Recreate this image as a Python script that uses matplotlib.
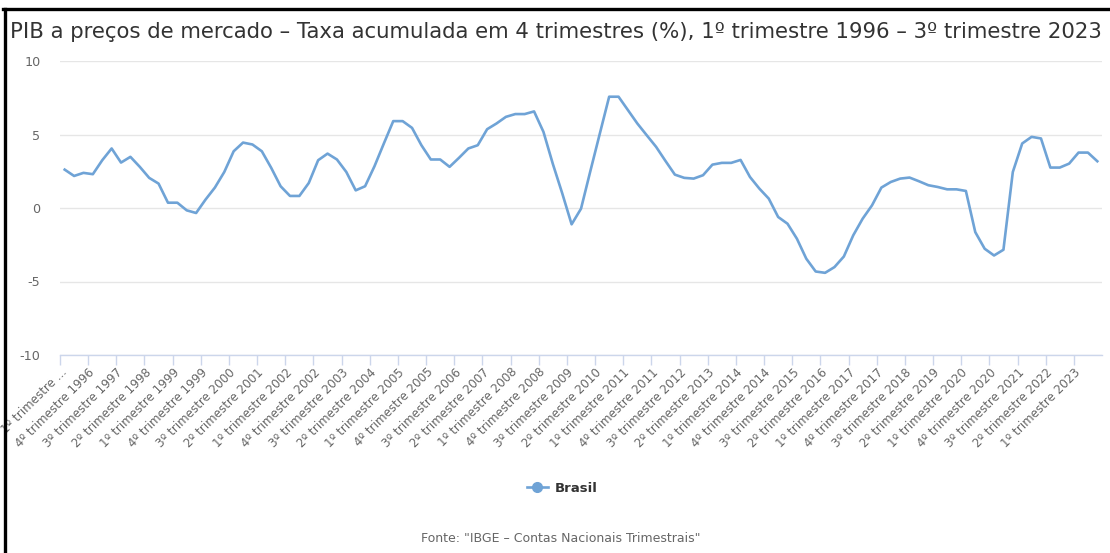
import matplotlib
matplotlib.use("Agg")
import matplotlib.pyplot as plt
from matplotlib.lines import Line2D

# ---------------- data ----------------
title = "PIB a preços de mercado – Taxa acumulada em 4 trimestres (%), 1º trimestre 1996 – 3º trimestre 2023"
series_name = "Brasil"
source = 'Fonte: "IBGE – Contas Nacionais Trimestrais"'

years = list(range(1996, 2024))
quarters = [f"{q}º trimestre {y}" for y in years for q in (1, 2, 3, 4)][:111]

values = [
    2.61, 2.18, 2.39, 2.30, 3.25, 4.05, 3.09, 3.48, 2.80, 2.05, 1.66, 0.36, 0.36, -0.16,
    -0.34, 0.57, 1.39, 2.45, 3.86, 4.45, 4.32, 3.86, 2.73, 1.48, 0.82, 0.82, 1.70, 3.25,
    3.70, 3.30, 2.45, 1.20, 1.48, 2.84, 4.39, 5.91, 5.91, 5.45, 4.27, 3.30, 3.30, 2.80,
    3.41, 4.05, 4.27, 5.36, 5.75, 6.20, 6.39, 6.39, 6.57, 5.18, 3.00, 1.00, -1.11, -0.05,
    2.52, 5.05, 7.57, 7.57, 6.66, 5.75, 4.95, 4.16, 3.20, 2.27, 2.05, 2.00, 2.23, 2.95,
    3.07, 3.07, 3.27, 2.11, 1.32, 0.64, -0.61, -1.07, -2.09, -3.45, -4.32, -4.41, -4.02,
    -3.30, -1.86, -0.73, 0.18, 1.39, 1.77, 2.00, 2.07, 1.82, 1.55, 1.43, 1.27, 1.27,
    1.16, -1.64, -2.77, -3.23, -2.84, 2.45, 4.39, 4.84, 4.73, 2.75, 2.75, 3.02, 3.77,
    3.77, 3.18,
]

y_ticks = [-10, -5, 0, 5, 10]
label_step = 3
first_label = "1º trimestre ..."

# ---------------- layout ----------------
W, H = 1110, 553
fig = plt.figure(figsize=(W / 100, H / 100), dpi=100)
fig.patch.set_facecolor("white")

left_px, right_px, top_px, bottom_px = 60, 1102, 61, 355
ax = fig.add_axes([left_px / W, 1 - bottom_px / H,
                   (right_px - left_px) / W, (bottom_px - top_px) / H])

line_color = "#6fa3d6"
x = list(range(len(values)))
ax.plot(x, values, color=line_color, lw=1.9, solid_joinstyle="round", zorder=3)

ax.set_xlim(-0.5, len(values) - 0.5)
ax.set_ylim(-10, 10)
ax.set_yticks(y_ticks)
ax.set_yticklabels([str(v) for v in y_ticks])
ax.grid(axis="y", color="#e6e6e6", lw=1.0)
ax.set_axisbelow(True)

for s in ("top", "right", "left"):
    ax.spines[s].set_visible(False)
ax.spines["bottom"].set_color("#ccd6eb")
ax.spines["bottom"].set_linewidth(1.0)

ax.tick_params(axis="y", length=0, pad=14, labelsize=9.2, labelcolor="#666666")

label_pos = list(range(0, len(values), label_step))
labels = [quarters[i] for i in label_pos]
labels[0] = first_label
ax.set_xticks(label_pos)
ax.set_xticklabels(labels, rotation=45, ha="right", va="center",
                   rotation_mode="anchor", fontsize=8.6, color="#666666")
ax.tick_params(axis="x", which="major", length=0, pad=11)
ax.set_xticks([p - 0.5 for p in label_pos], minor=True)
ax.tick_params(axis="x", which="minor", length=7.5, width=1.0, color="#ccd6eb")

# title, fitted to width
t = fig.text(10 / W, 1 - 38 / H, title, ha="left", va="baseline",
             fontsize=14.5, color="#333333")
fig.canvas.draw()
r = fig.canvas.get_renderer()
wpx = t.get_window_extent(r).width
t.set_fontsize(14.5 * 1098 / wpx)

# legend
handle = Line2D([], [], color=line_color, lw=1.9, marker="o", markersize=7,
                markerfacecolor=line_color, markeredgecolor=line_color)
leg = fig.legend([handle], [series_name], loc="center",
                 bbox_to_anchor=(562 / W, 1 - 488 / H), frameon=False,
                 handlelength=1.6, handletextpad=0.5,
                 prop={"weight": "bold", "size": 9.5})
for txt in leg.get_texts():
    txt.set_color("#333333")

# source
fig.text(561 / W, 1 - 538 / H, source, ha="center", va="center",
         fontsize=9, color="#666666")

# screenshot frame (top and left edges)
fig.add_artist(Line2D([3 / W, 1.0], [1 - 9 / H, 1 - 9 / H],
                      transform=fig.transFigure, color="black", lw=2.4))
fig.add_artist(Line2D([4.5 / W, 4.5 / W], [0.0, 1 - 9 / H],
                      transform=fig.transFigure, color="black", lw=2.4))

fig.savefig("out.png", dpi=100, facecolor="white")
